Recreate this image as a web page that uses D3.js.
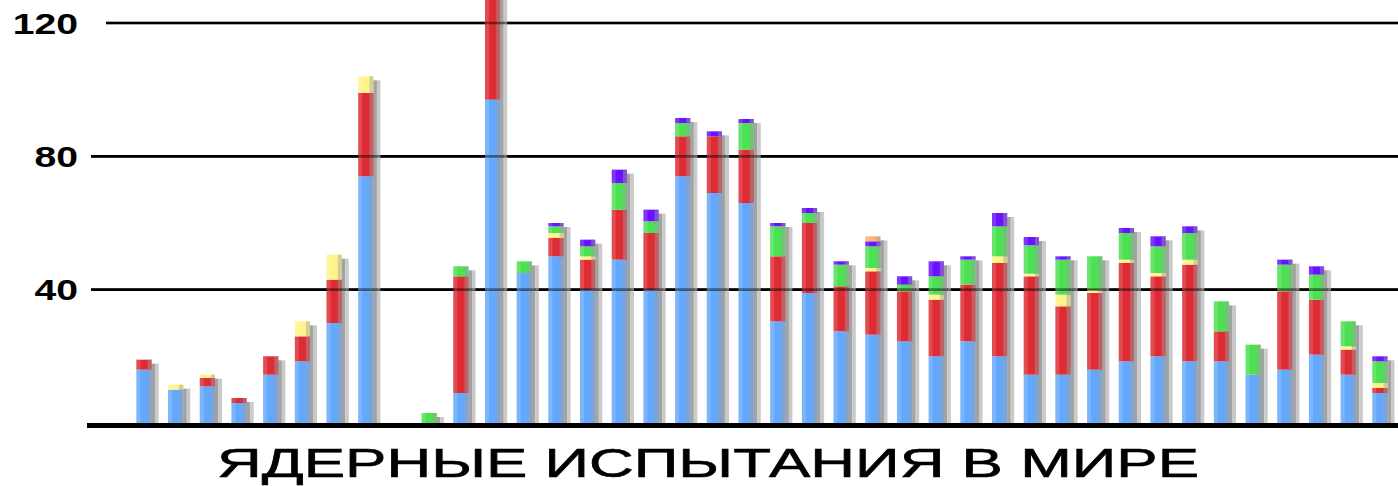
<!DOCTYPE html>
<html><head><meta charset="utf-8">
<script src="https://cdn.jsdelivr.net/npm/d3@7"></script>
<style>html,body{margin:0;padding:0;background:#fff;overflow:hidden}</style>
</head><body>
<svg id="c" width="1398" height="486"></svg>
<script>
// ---- data ----
const years = [1951,1952,1953,1954,1955,1956,1957,1958,1959,1960,
               1961,1962,1963,1964,1965,1966,1967,1968,1969,1970,
               1971,1972,1973,1974,1975,1976,1977,1978,1979,1980,
               1981,1982,1983,1984,1985,1986,1987,1988,1989,1990];
const usa    = [16,10,11,6,14.5,18.5,30,74,0,0, 9,97,45,50,40,49,40,74,69,66, 30.5,39,27.5,26.5,24.5,20,24.5,20,14.5,14.5, 16,18.5,20,18.5,18.5,14.5,16,20.5,14.5,9];
const ussr   = [3,0,2.5,1.5,5.5,7.5,13,25,0,0, 35,45,0,5.5,9,15,17,12,17,16, 19.5,21,13.5,19,15,17,17,28,29.5,20.5, 23,29.5,24,29,9,0,23.5,16.5,7.5,1.5];
const uk     = [0,1.5,1,0,0,4.5,7.5,5,0,0, 0,0,0,1.5,1,0,0,0,0,0, 0,0,0,1,0,1.5,0,2,0.8,3.5, 1,1,1,1.5,0,0,0,0,1,1.5];
const france = [0,0,0,0,0,0,0,0,0,3, 3,0,3.5,2,3,8,3.5,4,0,8, 9,3,6.5,6.5,2,5.5,7.5,9,8.5,10.5, 10,8,8,8,9,9,8,7.5,7.5,6.5];
const china  = [0,0,0,0,0,0,0,0,0,0, 0,0,0,1,2,4,3.5,1.5,1.5,1.2, 1,1.5,1,1.5,2.5,4.5,1,4,2.5,1, 0,1.5,3,2,0,0,1.5,2.5,0,1.5];
const india  = [0,0,0,0,0,0,0,0,0,0, 0,0,0,0,0,0,0,0,0,0, 0,0,0,1.5,0,0,0,0,0,0, 0,0,0,0,0,0,0,0,0,0];
const seriesKeys = ["usa","ussr","uk","france","china","india"];
const seriesColors = ["#64a8fc","#dd2c33","#fff48c","#4ce052","#6a12ff","#ffb070"];
const tickValues = [40, 80, 120];
const title = "ЯДЕРНЫЕ ИСПЫТАНИЯ В МИРЕ";

// ---- build table ----
const table = years.map((yr, i) => ({year: yr, usa: usa[i], ussr: ussr[i], uk: uk[i],
  france: france[i], china: china[i], india: india[i]}));
const stacked = d3.stack().keys(seriesKeys)(table);
const totals = table.map(d => seriesKeys.reduce((s, k) => s + d[k], 0));

const svg = d3.select("#c");
const x = d3.scaleBand().domain(years).range([128.15, 1395.75]).paddingInner(0.52).paddingOuter(0.26);
const y = d3.scaleLinear().domain([0, 120]).range([423, 23]);
const color = d3.scaleOrdinal().domain(seriesKeys).range(seriesColors);
const bw = x.bandwidth();

// gridlines behind
const grid = svg.append("g");
grid.selectAll("line").data(tickValues).join("line")
  .attr("x1", d => d === 120 ? 106 : 91).attr("x2", 1398)
  .attr("y1", d => y(d)).attr("y2", d => y(d))
  .attr("stroke", "#000").attr("stroke-width", 2.6);

// shadows
const sh = svg.append("g");
table.forEach((d, i) => {
  if (totals[i] <= 0) return;
  const top = Math.max(0, y(totals[i]) + 4);
  sh.append("rect").attr("x", x(d.year) + bw).attr("y", top)
    .attr("width", 3.5).attr("height", y(0) - top).attr("fill", "#a2a2a2");
  sh.append("rect").attr("x", x(d.year) + bw + 3.5).attr("y", top)
    .attr("width", 3.5).attr("height", y(0) - top).attr("fill", "#c9c9c9");
  sh.append("rect").attr("x", x(d.year) + bw - 4).attr("y", top)
    .attr("width", 4).attr("height", y(0) - top).attr("fill", "#a0a0a0");
});

// bars
const bars = svg.append("g");
stacked.forEach(layer => {
  bars.append("g").attr("fill", color(layer.key))
    .selectAll("rect").data(layer.filter(s => s[1] - s[0] > 0)).join("rect")
    .attr("x", s => x(s.data.year)).attr("width", bw)
    .attr("y", s => y(s[1])).attr("height", s => y(s[0]) - y(s[1]));
});
// shading strips over the bars
const shade = svg.append("g");
table.forEach((d, i) => {
  if (totals[i] <= 0) return;
  const top = Math.max(0, y(totals[i]));
  shade.append("rect").attr("x", x(d.year)).attr("y", top).attr("width", 4)
    .attr("height", y(0) - top).attr("fill", "#fff").attr("opacity", 0.15);
  shade.append("rect").attr("x", x(d.year) + bw - 4).attr("y", top).attr("width", 4)
    .attr("height", y(0) - top).attr("fill", "#a0a0a0").attr("opacity", 0.45);
});

// gridlines faint overlay over bars
svg.append("g").selectAll("line").data(tickValues).join("line")
  .attr("x1", d => d === 120 ? 106 : 91).attr("x2", 1398)
  .attr("y1", d => y(d)).attr("y2", d => y(d))
  .attr("stroke", "#000").attr("stroke-width", 2.6).attr("opacity", 0.45);

// baseline
svg.append("line").attr("x1", 87).attr("x2", 1398)
  .attr("y1", y(0) + 2.5).attr("y2", y(0) + 2.5)
  .attr("stroke", "#000").attr("stroke-width", 5);

// tick labels
const lab = svg.append("g").selectAll("text").data(tickValues).join("text")
  .attr("x", 78).attr("y", d => y(d) + 10.5)
  .attr("text-anchor", "end")
  .attr("font-family", "Liberation Sans, Arial, sans-serif")
  .attr("font-weight", "bold").attr("font-size", 29).attr("fill", "#000")
  .text(d => d);
lab.each(function() {
  const len = this.getComputedTextLength();
  d3.select(this).attr("textLength", len * 1.35).attr("lengthAdjust", "spacingAndGlyphs");
});

// title
svg.append("text").attr("x", 217).attr("y", 477)
  .attr("font-family", "Liberation Sans, Arial, sans-serif")
  .attr("font-size", 40).attr("fill", "#000")
  .attr("stroke", "#000").attr("stroke-width", 0.6)
  .attr("textLength", 982).attr("lengthAdjust", "spacingAndGlyphs")
  .text(title);
</script>
</body></html>
